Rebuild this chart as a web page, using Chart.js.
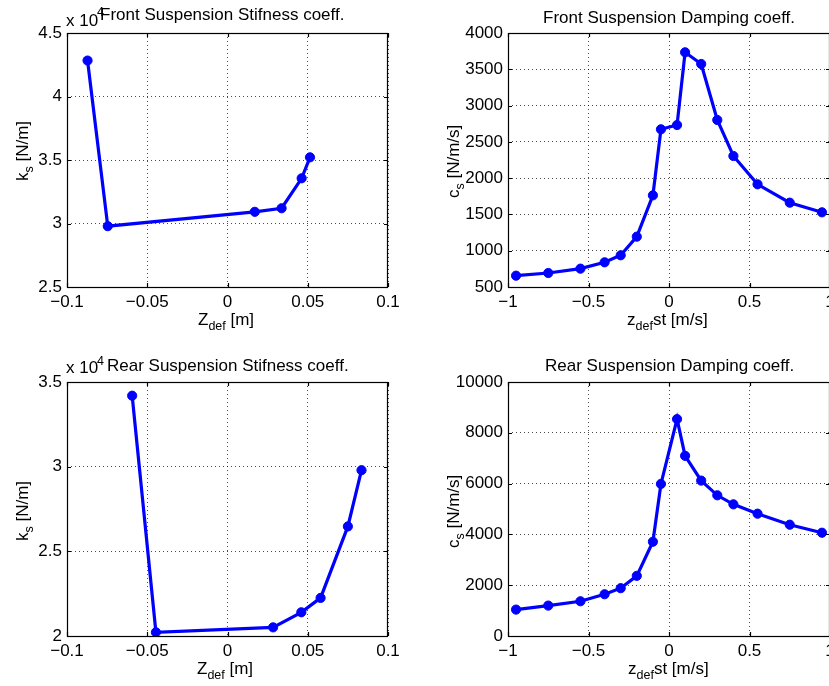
<!DOCTYPE html>
<html>
<head>
<meta charset="utf-8">
<script src="https://cdn.jsdelivr.net/npm/chart.js@4/dist/chart.umd.min.js"></script>
<style>
html,body{margin:0;padding:0;background:#fff;overflow:hidden;}
#wrap{position:relative;width:829px;height:686px;overflow:hidden;background:#fff;}
canvas{position:absolute;}
</style>
</head>
<body>
<div id="wrap"></div>
<script>
// ---------------- DATA ----------------
const frontStiffDefl = [-0.0872, -0.0746, 0.0170, 0.0337, 0.0462, 0.0514];
const frontStiffK    = [42830, 29790, 30920, 31200, 33560, 35210];

const rearStiffDefl  = [-0.0594, -0.0446, 0.0284, 0.0460, 0.0580, 0.0750, 0.0835];
const rearStiffK     = [34190, 20220, 20510, 21400, 22250, 26470, 29790];

const dampVel    = [-0.95, -0.75, -0.55, -0.4, -0.3, -0.2, -0.1, -0.05, 0.05, 0.1, 0.2, 0.3, 0.4, 0.55, 0.75, 0.95];
const frontDampC = [656, 693, 753, 840, 937, 1194, 1763, 2673, 2732, 3734, 3573, 2801, 2305, 1915, 1662, 1529];
const rearDampC  = [1039, 1197, 1368, 1644, 1882, 2368, 3711, 5987, 8539, 7092, 6118, 5539, 5184, 4816, 4382, 4066];

const stiffXTicks      = [-0.1, -0.05, 0, 0.05, 0.1];
const stiffXTickLabels = ['\u22120.1', '\u22120.05', '0', '0.05', '0.1'];
const dampXTicks       = [-1, -0.5, 0, 0.5, 1];
const dampXTickLabels  = ['\u22121', '\u22120.5', '0', '0.5', '1'];

const frontStiffYTicks      = [25000, 30000, 35000, 40000, 45000];
const frontStiffYTickLabels = ['2.5', '3', '3.5', '4', '4.5'];
const rearStiffYTicks       = [20000, 25000, 30000, 35000];
const rearStiffYTickLabels  = ['2', '2.5', '3', '3.5'];
const frontDampYTicks       = [500, 1000, 1500, 2000, 2500, 3000, 3500, 4000];
const frontDampYTickLabels  = ['500', '1000', '1500', '2000', '2500', '3000', '3500', '4000'];
const rearDampYTicks        = [0, 2000, 4000, 6000, 8000, 10000];
const rearDampYTickLabels   = ['0', '2000', '4000', '6000', '8000', '10000'];

// ---------------- RENDERING ----------------
const FONT = 'Liberation Sans, Arial, Helvetica, sans-serif';
const FS = 17;
const SUB = 12.5;

function drawRich(ctx, parts, x, y, rot) {
  ctx.save();
  ctx.translate(x, y);
  if (rot) ctx.rotate(rot);
  ctx.textAlign = 'left';
  ctx.textBaseline = 'alphabetic';
  ctx.fillStyle = '#000';
  let cx = 0;
  for (const p of parts) {
    const size = p.size || FS;
    ctx.font = size + 'px ' + FONT;
    ctx.fillText(p.t, cx, p.dy || 0);
    cx += ctx.measureText(p.t).width;
  }
  ctx.restore();
}

const textPlugin = {
  id: 'matlabText',
  afterDraw(chart, args, opts) {
    const ctx = chart.ctx;
    const a = chart.chartArea;
    const xs = chart.scales.x, ys = chart.scales.y;
    ctx.save();
    ctx.strokeStyle = '#000';
    ctx.lineWidth = 1.2;
    ctx.strokeRect(Math.round(a.left) + 0.5, Math.round(a.top) + 0.5,
                   Math.round(a.right - a.left) - 1, Math.round(a.bottom - a.top));
    ctx.beginPath();
    const TL = 4;
    xs.ticks.forEach(t => {
      const px = Math.round(xs.getPixelForValue(t.value)) + 0.5;
      ctx.moveTo(px, a.bottom); ctx.lineTo(px, a.bottom - TL);
      ctx.moveTo(px, a.top); ctx.lineTo(px, a.top + TL);
    });
    ys.ticks.forEach(t => {
      const py = Math.round(ys.getPixelForValue(t.value)) + 0.5;
      ctx.moveTo(a.left, py); ctx.lineTo(a.left + TL, py);
      ctx.moveTo(a.right, py); ctx.lineTo(a.right - TL, py);
    });
    ctx.stroke();
    ctx.restore();
    const ox = opts.ox, oy = opts.oy;
    (opts.texts || []).forEach(tx => {
      drawRich(ctx, tx.parts, tx.x - ox, tx.y - oy, tx.rot || 0);
    });
  }
};

function makeChart(cfg) {
  const cv = document.createElement('canvas');
  cv.width = cfg.cw; cv.height = cfg.ch;
  cv.style.left = cfg.cx + 'px'; cv.style.top = cfg.cy + 'px';
  cv.style.width = cfg.cw + 'px'; cv.style.height = cfg.ch + 'px';
  document.getElementById('wrap').appendChild(cv);
  const area = cfg.area;
  const pts = cfg.xs.map((x, i) => ({x: x, y: cfg.ys[i]}));
  const gridStyle = {color: 'rgba(0,0,0,0.7)', lineWidth: 1, drawTicks: false, borderDash: [1, 3]};
  return new Chart(cv, {
    type: 'line',
    data: {datasets: [{
      data: pts,
      borderColor: '#0000ff', backgroundColor: '#0000ff',
      borderWidth: 3.2, tension: 0, fill: false,
      pointRadius: 4.6, pointBorderWidth: 1,
      pointBackgroundColor: '#0000ff', pointBorderColor: '#0000ff'
    }]},
    options: {
      responsive: false, animation: false, events: [],
      devicePixelRatio: 1,
      layout: {padding: {left: 0, bottom: 0, top: area.t - cfg.cy, right: cfg.cx + cfg.cw - area.r}},
      plugins: {
        legend: {display: false}, title: {display: false}, tooltip: {enabled: false},
        matlabText: {ox: cfg.cx, oy: cfg.cy, texts: cfg.texts}
      },
      scales: {
        x: {
          type: 'linear', min: cfg.xTicks[0], max: cfg.xTicks[cfg.xTicks.length - 1],
          afterBuildTicks: s => { s.ticks = cfg.xTicks.map(v => ({value: v})); },
          afterFit: s => { s.height = cfg.cy + cfg.ch - area.b; },
          ticks: {color: '#000', font: {family: FONT, size: FS}, padding: 5, maxRotation: 0, autoSkip: false,
                  callback: (v, i) => cfg.xLabels[i]},
          grid: gridStyle,
          border: {display: false, dash: [1, 3]}
        },
        y: {
          type: 'linear', min: cfg.yTicks[0], max: cfg.yTicks[cfg.yTicks.length - 1],
          afterBuildTicks: s => { s.ticks = cfg.yTicks.map(v => ({value: v})); },
          afterFit: s => { s.width = area.l - cfg.cx; },
          ticks: {color: '#000', font: {family: FONT, size: FS}, padding: 5, autoSkip: false,
                  callback: (v, i) => cfg.yLabels[i]},
          grid: gridStyle,
          border: {display: false, dash: [1, 3]}
        }
      }
    },
    plugins: [textPlugin]
  });
}

const R90 = -Math.PI / 2;

// Top-left
makeChart({
  cx: 0, cy: 0, cw: 410, ch: 340,
  area: {l: 67, r: 388, t: 33, b: 287},
  xs: frontStiffDefl, ys: frontStiffK,
  xTicks: stiffXTicks, xLabels: stiffXTickLabels,
  yTicks: frontStiffYTicks, yLabels: frontStiffYTickLabels,
  texts: [
    {x: 66, y: 26, parts: [{t: 'x 10'}]},
    {x: 97, y: 16, parts: [{t: '4', size: SUB}]},
    {x: 100, y: 20, parts: [{t: 'Front Suspension Stifness coeff.'}]},
    {x: 198, y: 325, parts: [{t: 'Z'}, {t: 'def', size: SUB, dy: 5}, {t: ' [m]'}]},
    {x: 28, y: 181, rot: R90, parts: [{t: 'k'}, {t: 's', size: SUB, dy: 5}, {t: ' [N/m]'}]}
  ]
});

// Top-right
makeChart({
  cx: 410, cy: 0, cw: 440, ch: 340,
  area: {l: 508, r: 830, t: 33, b: 287},
  xs: dampVel, ys: frontDampC,
  xTicks: dampXTicks, xLabels: dampXTickLabels,
  yTicks: frontDampYTicks, yLabels: frontDampYTickLabels,
  texts: [
    {x: 543, y: 22.5, parts: [{t: 'Front Suspension Damping coeff.'}]},
    {x: 627, y: 325, parts: [{t: 'z'}, {t: 'def', size: SUB, dy: 5}, {t: 'st [m/s]'}]},
    {x: 459, y: 198, rot: R90, parts: [{t: 'c'}, {t: 's', size: SUB, dy: 5}, {t: ' [N/m/s]'}]}
  ]
});

// Bottom-left
makeChart({
  cx: 0, cy: 340, cw: 410, ch: 346,
  area: {l: 67, r: 388, t: 382, b: 636},
  xs: rearStiffDefl, ys: rearStiffK,
  xTicks: stiffXTicks, xLabels: stiffXTickLabels,
  yTicks: rearStiffYTicks, yLabels: rearStiffYTickLabels,
  texts: [
    {x: 66, y: 373, parts: [{t: 'x 10'}]},
    {x: 97, y: 365, parts: [{t: '4', size: SUB}]},
    {x: 107, y: 371, parts: [{t: 'Rear Suspension Stifness coeff.'}]},
    {x: 197, y: 674, parts: [{t: 'Z'}, {t: 'def', size: SUB, dy: 5}, {t: ' [m]'}]},
    {x: 28, y: 541, rot: R90, parts: [{t: 'k'}, {t: 's', size: SUB, dy: 5}, {t: ' [N/m]'}]}
  ]
});

// Bottom-right
makeChart({
  cx: 410, cy: 340, cw: 440, ch: 346,
  area: {l: 508, r: 830, t: 382, b: 636},
  xs: dampVel, ys: rearDampC,
  xTicks: dampXTicks, xLabels: dampXTickLabels,
  yTicks: rearDampYTicks, yLabels: rearDampYTickLabels,
  texts: [
    {x: 545, y: 371, parts: [{t: 'Rear Suspension Damping coeff.'}]},
    {x: 628, y: 674, parts: [{t: 'z'}, {t: 'def', size: SUB, dy: 5}, {t: 'st [m/s]'}]},
    {x: 459, y: 548, rot: R90, parts: [{t: 'c'}, {t: 's', size: SUB, dy: 5}, {t: ' [N/m/s]'}]}
  ]
});
</script>
</body>
</html>
